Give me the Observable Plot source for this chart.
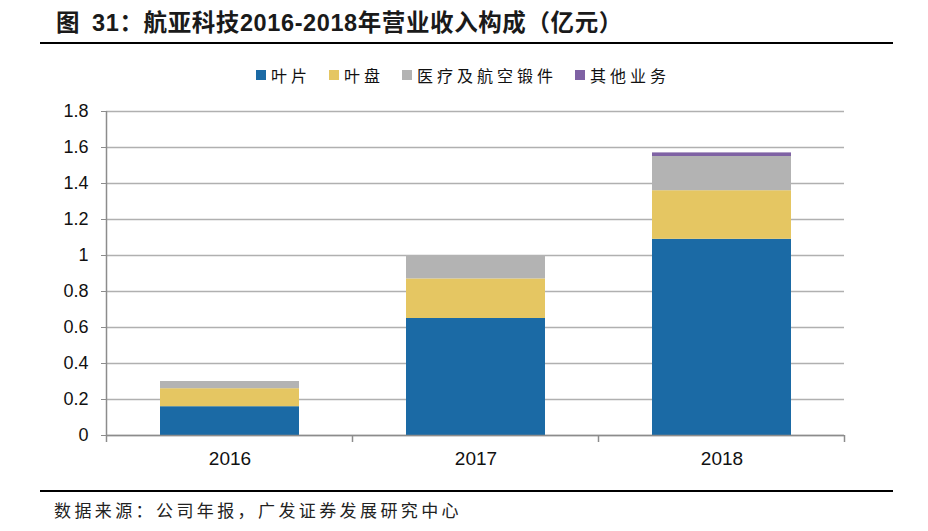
<!DOCTYPE html>
<html>
<head>
<meta charset="utf-8">
<script src="https://cdn.jsdelivr.net/npm/d3@7"></script>
<script src="https://cdn.jsdelivr.net/npm/@observablehq/plot@0.6"></script>
<style>
  html, body { margin: 0; padding: 0; background: #fff; }
  #wrap { position: relative; width: 928px; height: 531px; overflow: hidden; background: #fff; }
  #title { position: absolute; left: 56px; top: 8px; line-height: 30px; font-size: 23.5px; font-weight: bold;
           font-family: "Liberation Sans", "Noto Sans CJK SC", sans-serif; color: #1a1a1a; white-space: nowrap; letter-spacing: 0.6px; }
  #title .fig { margin-right: 12px; }
  .rule { position: absolute; left: 40px; width: 853px; background: #000; }
  #legend { position: absolute; left: 256px; top: 64px; height: 22px; display: flex; align-items: center;
            font-family: "Noto Sans CJK SC", sans-serif; font-size: 16px; letter-spacing: 4px; color: #111; white-space: nowrap; }
  .li { display: flex; align-items: center; margin-right: 18px; }
  .sw { width: 10px; height: 10px; margin-right: 5px; }
  #footer { position: absolute; left: 54px; top: 498px; line-height: 24px; font-size: 17px; letter-spacing: 3.4px;
            font-family: "Noto Sans CJK SC", sans-serif; color: #222; white-space: nowrap; }
  #chart { position: absolute; left: 0; top: 90px; }
  #chart svg { font-family: "Liberation Sans", Arial, sans-serif; }
</style>
</head>
<body>
<div id="wrap">
  <div id="title"><span class="fig">图</span>31：航亚科技2016-2018年营业收入构成（亿元）</div>
  <div class="rule" style="top:41.5px;height:2.5px;"></div>
  <div id="legend"></div>
  <div id="chart"></div>
  <div class="rule" style="top:489.5px;height:2px;"></div>
  <div id="footer">数据来源：公司年报，广发证券发展研究中心</div>
</div>
<script>
const years = ["2016", "2017", "2018"];
const seriesNames = ["叶片", "叶盘", "医疗及航空锻件", "其他业务"];
const blade   = [0.16, 0.65, 1.09];
const blisk   = [0.10, 0.22, 0.27];
const medical = [0.04, 0.13, 0.19];
const other   = [0.00, 0.00, 0.02];
const seriesColors = ["#1B6AA5", "#E5C662", "#B3B3B3", "#7F62A4"];
const yTicks = [0, 0.2, 0.4, 0.6, 0.8, 1, 1.2, 1.4, 1.6, 1.8];

const seriesValues = [blade, blisk, medical, other];
const data = [];
seriesNames.forEach((s, i) => years.forEach((y, j) => data.push({year: y, series: s, value: seriesValues[i][j]})));

// legend
const legend = document.getElementById("legend");
seriesNames.forEach((s, i) => {
  const it = document.createElement("div");
  it.className = "li";
  const sw = document.createElement("div");
  sw.className = "sw";
  sw.style.background = seriesColors[i];
  const tx = document.createElement("span");
  tx.textContent = s;
  it.appendChild(sw); it.appendChild(tx);
  legend.appendChild(it);
});

const plot = Plot.plot({
  width: 928,
  height: 400,
  marginTop: 21,
  marginBottom: 55,
  marginLeft: 106,
  marginRight: 84,
  x: {domain: years, paddingInner: 0.435, paddingOuter: 0.2175, label: null},
  y: {domain: [0, 1.8], label: null},
  color: {domain: seriesNames, range: seriesColors},
  marks: [
    Plot.gridY(yTicks, {stroke: "#b0b0b0", strokeOpacity: 1, strokeWidth: 1.3}),
    Plot.barY(data, {x: "year", y: "value", fill: "series"}),
    Plot.ruleY([0], {stroke: "#8c8c8c", strokeWidth: 1.5}),
    Plot.axisY(yTicks, {tickSize: 5, tickPadding: 13, fontSize: 18, stroke: "#8c8c8c", fill: "#111",
      tickFormat: d => String(+d.toFixed(1)), label: null}),
    Plot.axisX({tickSize: 0, tickPadding: 16, fontSize: 19, fill: "#111", label: null})
  ]
});
document.getElementById("chart").appendChild(plot);

// y-axis line and category boundary ticks, placed with the plot's own scales
const xs = plot.scale("x"), ys = plot.scale("y");
const svg = d3.select(plot);
const y0 = ys.apply(0), yTop = ys.apply(d3.max(yTicks));
const half = (xs.step - xs.bandwidth) / 2;
const bounds = years.map(y => xs.apply(y) - half);
bounds.push(xs.apply(years[years.length - 1]) + xs.bandwidth + half);
svg.append("line").attr("x1", bounds[0]).attr("x2", bounds[0]).attr("y1", yTop).attr("y2", y0)
  .attr("stroke", "#8c8c8c").attr("stroke-width", 1.5);
svg.selectAll("line.bt").data(bounds).join("line").attr("class", "bt")
  .attr("x1", d => d).attr("x2", d => d).attr("y1", y0).attr("y2", y0 + 7)
  .attr("stroke", "#8c8c8c").attr("stroke-width", 1.5);
</script>
</body>
</html>
